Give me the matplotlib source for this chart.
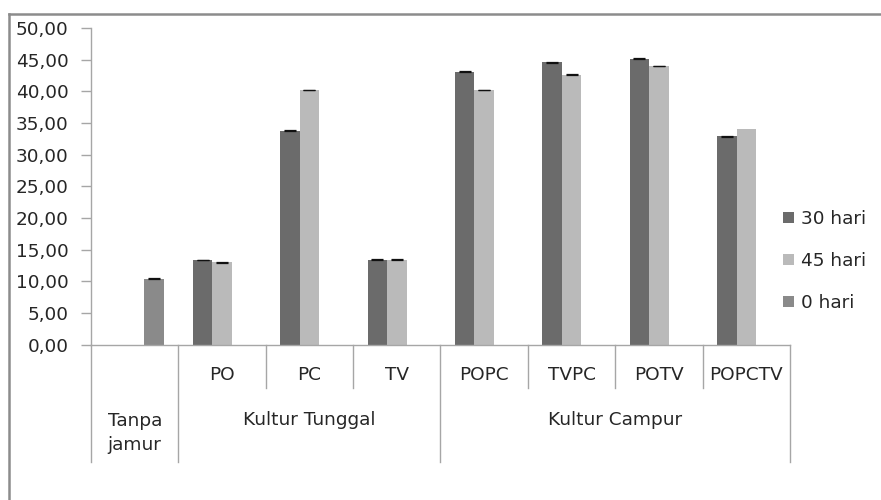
import matplotlib
matplotlib.use("Agg")
import matplotlib.pyplot as plt
from matplotlib.lines import Line2D
from matplotlib.patches import Patch
import numpy as np

categories = ["Tanpa jamur", "PO", "PC", "TV", "POPC", "TVPC", "POTV", "POPCTV"]
level1_labels = ["", "PO", "PC", "TV", "POPC", "TVPC", "POTV", "POPCTV"]
groups = [("Tanpa\njamur", 0, 1), ("Kultur Tunggal", 1, 4), ("Kultur Campur", 4, 8)]

series_names = ["30 hari", "45 hari", "0 hari"]
hari30 = [np.nan, 13.35, 33.75, 13.4, 43.1, 44.6, 45.15, 32.9]
hari45 = [np.nan, 13.0, 40.2, 13.4, 40.2, 42.6, 44.0, 34.0]
hari0 = [10.4, np.nan, np.nan, np.nan, np.nan, np.nan, np.nan, np.nan]
err30 = [0, 0.06, 0.06, 0.06, 0.06, 0.06, 0.06, 0.06]
err45 = [0, 0.06, 0.06, 0.06, 0.06, 0.06, 0.06, 0.0]
err0 = [0.06, 0, 0, 0, 0, 0, 0, 0]
yticks = [0, 5, 10, 15, 20, 25, 30, 35, 40, 45, 50]

colors = ["#6b6b6b", "#bababa", "#8a8a8a"]

plt.rcParams['font.family'] = ['DejaVu Sans']
FS = 13.3
TXT = "#262626"
AXC = "#8c8c8c"
SEP = "#a6a6a6"

fig = plt.figure(figsize=(8.81, 5.0), dpi=100)
ax = fig.add_axes([91/881, 1 - 344.5/500, 699/881, 316.5/500])

x = np.arange(len(categories)) + 0.5
w = 0.223
for i, (vals, errs) in enumerate(zip([hari30, hari45, hari0], [err30, err45, err0])):
    pos = x + (i - 1) * w
    v = np.array(vals, dtype=float)
    ax.bar(pos, v, width=w, color=colors[i], edgecolor="none", zorder=2)
    e = np.array(errs, dtype=float)
    m = ~np.isnan(v) & (e > 0)
    ax.errorbar(pos[m], v[m], yerr=e[m], fmt="none", ecolor="#111111",
                elinewidth=0.6, capsize=4.5, capthick=0.9, zorder=3)

ax.set_xlim(0, 8)
ax.set_ylim(0, 50)
ax.set_yticks(yticks)
ax.set_yticklabels([f"{t:.2f}".replace(".", ",") for t in yticks], fontsize=FS, color=TXT)
ax.tick_params(axis="y", length=7, width=1, color=SEP, pad=9)
ax.set_xticks([])
for s in ["top", "right"]:
    ax.spines[s].set_visible(False)
ax.spines["left"].set_color(SEP)
ax.spines["bottom"].set_color(SEP)
ax.spines["left"].set_linewidth(1)
ax.spines["bottom"].set_linewidth(1)

tr = ax.get_xaxis_transform()
short = -43.5 / 316.5
long_ = -117.5 / 316.5
long_pos = {0, 1, 4, 8}
for b in range(0, 9):
    y2 = long_ if b in long_pos else short
    ax.plot([b, b], [0, y2], color=SEP, lw=1, transform=tr, clip_on=False)

for xi, lab in zip(x, level1_labels):
    if lab:
        ax.text(xi, -30.5 / 316.5, lab, transform=tr, ha="center", va="center",
                fontsize=FS, color=TXT)
for lab, a, b in groups:
    if "\n" in lab:
        ax.text((a + b) / 2, -(433 - 344.5) / 316.5, lab, transform=tr, ha="center",
                va="center", fontsize=FS, color=TXT, linespacing=1.5)
    else:
        ax.text((a + b) / 2, -(420 - 344.5) / 316.5, lab, transform=tr, ha="center",
                va="center", fontsize=FS, color=TXT)

handles = [Patch(facecolor=c, edgecolor="none") for c in colors]
fig.legend(handles, series_names, loc="center left",
           bbox_to_anchor=(783/881, 1 - 261/500), frameon=False, fontsize=FS,
           handlelength=0.6, handleheight=0.6, handletextpad=0.4,
           labelspacing=1.3, borderpad=0, borderaxespad=0, labelcolor=TXT)

fig.add_artist(Line2D([9/881, 9/881], [0, 1 - 14/500], transform=fig.transFigure,
                      color=AXC, lw=1.8))
fig.add_artist(Line2D([9/881, 1], [1 - 14/500, 1 - 14/500], transform=fig.transFigure,
                      color=AXC, lw=1.8))

fig.savefig("out.png", dpi=100)
